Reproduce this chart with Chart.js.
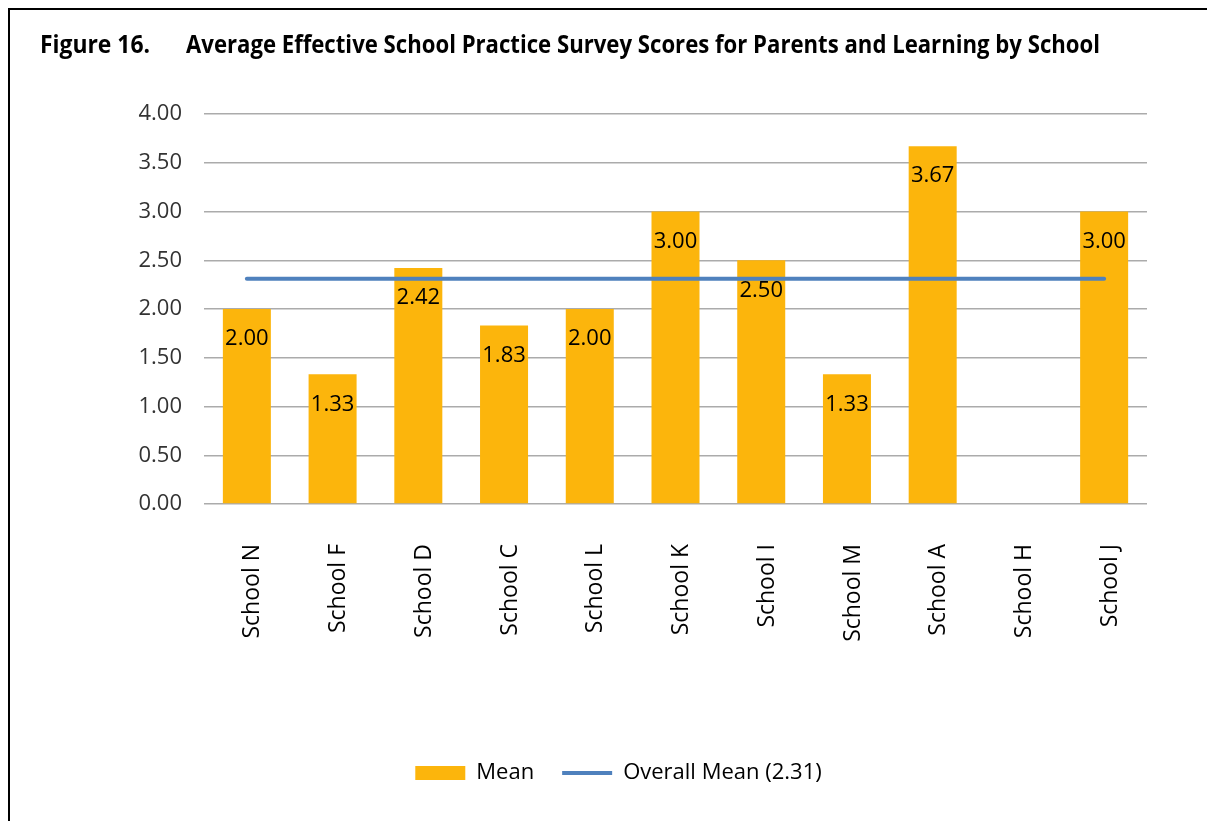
<!DOCTYPE html>
<html>
<head>
<meta charset="utf-8">
<script src="https://cdn.jsdelivr.net/npm/chart.js@4.4.1/dist/chart.umd.min.js"></script>
<style>
  html, body { margin: 0; padding: 0; background: #fff; }
  #wrap { position: relative; width: 1207px; height: 821px; overflow: hidden; }
  #frame { position: absolute; left: 8px; top: 8px; width: 1300px; height: 900px;
           border-top: 2px solid #000; border-left: 2px solid #000; box-sizing: border-box; }
  canvas { position: absolute; left: 0; top: 0; }
</style>
</head>
<body>
<div id="wrap">
  <div id="frame"></div>
  <canvas id="c" width="1207" height="821"></canvas>
</div>
<script>
const titleNumber = "Figure 16.";
const titleText = "Average Effective School Practice Survey Scores for Parents and Learning by School";
const categories = ["School N", "School F", "School D", "School C", "School L", "School K", "School I", "School M", "School A", "School H", "School J"];
const meanValues = [2.00, 1.33, 2.42, 1.83, 2.00, 3.00, 2.50, 1.33, 3.67, null, 3.00];
const overallMean = 2.31;
const overallMeanValues = categories.map(() => overallMean);
const yTicks = [0, 0.5, 1, 1.5, 2, 2.5, 3, 3.5, 4];
const seriesNames = ["Mean", "Overall Mean (2.31)"];

const FONT = "'Open Sans', 'Noto Sans', sans-serif";

const titlePlugin = {
  id: 'figTitle',
  afterDraw(chart) {
    const ctx = chart.ctx;
    ctx.save();
    ctx.fillStyle = '#000';
    ctx.font = "bold 25px " + FONT;
    ctx.textBaseline = 'alphabetic';
    ctx.textAlign = 'left';
    ctx.fillText(titleNumber, 40, 53, 110);
    ctx.fillText(titleText, 186, 53, 914);
    ctx.restore();
  }
};

const legendShift = {
  id: 'legendShift',
  afterLayout(chart) {
    const l = chart.legend;
    if (l) { l.left += 45; l.right += 45; }
  }
};

const barLabelPlugin = {
  id: 'barLabels',
  afterDatasetsDraw(chart) {
    const ctx = chart.ctx;
    const meta = chart.getDatasetMeta(0);
    ctx.save();
    ctx.fillStyle = '#000';
    ctx.font = "22px " + FONT;
    ctx.textAlign = 'center';
    ctx.textBaseline = 'middle';
    meta.data.forEach((bar, i) => {
      const v = meanValues[i];
      if (v === null || v === undefined) return;
      ctx.fillText(v.toFixed(2), bar.x, bar.y + 30, 47);
    });
    ctx.restore();
  }
};

new Chart(document.getElementById('c'), {
  data: {
    labels: categories,
    datasets: [
      {
        type: 'bar',
        label: seriesNames[0],
        data: meanValues,
        backgroundColor: '#FCB50C',
        borderWidth: 0,
        categoryPercentage: 1.0,
        barPercentage: 0.56,
        order: 2
      },
      {
        type: 'line',
        label: seriesNames[1],
        data: overallMeanValues,
        borderColor: '#4F81BD',
        backgroundColor: '#4F81BD',
        borderWidth: 4,
        borderCapStyle: 'round',
        pointRadius: 0,
        pointHoverRadius: 0,
        fill: false,
        order: 1
      }
    ]
  },
  options: {
    responsive: false,
    animation: false,
    devicePixelRatio: 1,
    layout: { padding: { top: 114, left: 0, right: 60, bottom: 27 } },
    plugins: {
      title: { display: false },
      tooltip: { enabled: false },
      legend: {
        display: true,
        position: 'bottom',
        labels: {
          usePointStyle: true,
          pointStyleWidth: 50,
          boxHeight: 14,
          padding: 28,
          color: '#222',
          font: { family: FONT, size: 22 },
          generateLabels(chart) {
            return [
              { text: seriesNames[0], fillStyle: '#FCB50C', strokeStyle: '#FCB50C', lineWidth: 0, pointStyle: 'rect', datasetIndex: 0 },
              { text: seriesNames[1], fillStyle: '#4F81BD', strokeStyle: '#4F81BD', lineWidth: 4, pointStyle: 'line', datasetIndex: 1 }
            ];
          }
        }
      }
    },
    scales: {
      x: {
        grid: { display: false },
        border: { display: false },
        ticks: {
          color: '#000',
          font: { family: FONT, size: 23 },
          minRotation: 90,
          maxRotation: 90,
          padding: 32,
          labelOffset: 6,
          autoSkip: false
        },
        afterFit(scale) { scale.height = 230; }
      },
      y: {
        min: 0,
        max: 4,
        afterBuildTicks(scale) { scale.ticks = yTicks.map(v => ({ value: v })); },
        grid: { color: '#ABABAB', lineWidth: 1.5, drawTicks: false },
        border: { display: false },
        ticks: {
          color: '#333',
          font: { family: FONT, size: 22 },
          padding: 22,
          callback: (v) => Number(v).toFixed(2)
        },
        afterFit(scale) { scale.width = 204; }
      }
    }
  },
  plugins: [titlePlugin, barLabelPlugin, legendShift]
});
</script>
</body>
</html>
